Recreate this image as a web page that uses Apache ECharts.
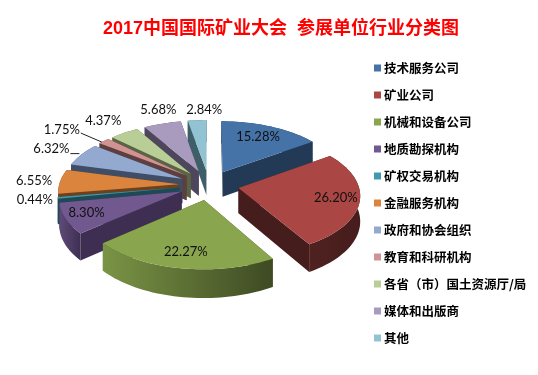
<!DOCTYPE html>
<html><head><meta charset="utf-8">
<style>html,body{margin:0;padding:0;background:#fff}#c{width:538px;height:375px}</style>
<script src="https://cdn.jsdelivr.net/npm/echarts@6/dist/echarts.min.js"></script>
</head><body><div id="c"></div>
<script>
const titleText = '2017中国国际矿业大会  参展单位行业分类图';
const categories = ['技术服务公司','矿业公司','机械和设备公司','地质勘探机构','矿权交易机构','金融服务机构','政府和协会组织','教育和科研机构','各省（市）国土资源厅/局','媒体和出版商','其他'];
const shares = [15.28,26.20,22.27,8.30,0.44,6.55,6.32,1.75,4.37,5.68,2.84];
const topColors = ['#4572A7','#AA4643','#89A54E','#71588F','#4198AF','#DB843D','#93A9CF','#D19392','#B9CD96','#A99BBD','#92C3D3'];
const wallColors = ['#233A56','#451D1C','#3E4A23','#3E2F52','#1E4A56','#6E411D','#3F4D66','#5E3F3F','#596346','#4E465C','#3F5F68'];
const wallLight = ['#2B4768','#4F2220','#7A9445','#5E4A78','#24596A','#8A5326','#4A5A78','#704C4C','#6A7654','#5C5270','#4A6F7A'];
// label placement relative to each slice's outer mid point, in px
const labelNudge = [[-13,10],[-24,-3],[5,-16],[21,-6],[-23,2],[-26,-1],[-30,-6],[-42,-11],[-21,-12],[-4,-14],[7,-10]];
const leaderSlices = {6:[-2,-1],7:[-2,1]};

const view = {cx:209, cy:185, A:120, B:58.8, k:0.105, explode:0.25, depth:25};
const total = shares.reduce((a,b)=>a+b,0);
const rad = Math.PI/180;
let acc = 0;
const slices = shares.map((v,i)=>{
  const start = acc/total*360; acc += v; const end = acc/total*360;
  return {i, start, end, mid:(start+end)/2};
});
function project(sl, r, deg, drop){
  const m = sl.mid*rad, t = deg*rad;
  const u = view.explode*Math.sin(m) + r*Math.sin(t);
  const w = -(view.explode*Math.cos(m) + r*Math.cos(t));
  const s = 1/(1 - view.k*w);
  return [view.cx + view.A*u*s, view.cy + view.B*w*s + (drop ? view.depth*s : 0)];
}
function sliceShapes(sl){
  const i = sl.i, arcTop = [], arcBot = [];
  const n = Math.max(2, Math.ceil((sl.end-sl.start)/2));
  for(let j=0;j<=n;j++){
    const d = sl.start + (sl.end-sl.start)*j/n;
    arcTop.push(project(sl,1,d,false)); arcBot.push(project(sl,1,d,true));
  }
  const a0 = project(sl,0,0,false), a1 = project(sl,0,0,true);
  const poly = (pts,fill)=>({type:'polygon',shape:{points:pts},style:{fill}});
  const radial1 = poly([a0,arcTop[0],arcBot[0],a1],wallColors[i]);
  const radial2 = poly([a0,arcTop[n],arcBot[n],a1],wallColors[i]);
  const xs = arcTop.map(p=>p[0]);
  const grad = new echarts.graphic.LinearGradient(Math.min(...xs),0,Math.max(...xs)+0.01,0,
    [{offset:0,color:wallLight[i]},{offset:1,color:wallColors[i]}],true);
  const arcWall = poly(arcTop.concat(arcBot.slice().reverse()),grad);
  const top = poly([a0].concat(arcTop),topColors[i]);
  const back = Math.cos(sl.mid*rad) > 0;
  const kids = back ? [arcWall,radial1,radial2,top] : [radial1,radial2,arcWall,top];
  const p = project(sl,1,sl.mid,false);
  const nudge = labelNudge[i];
  const lx = p[0]+nudge[0], ly = p[1]+nudge[1];
  if(leaderSlices[i]){
    const lift = i===6 ? 5 : 3;
    kids.push({type:'line',shape:{x1:lx+19,y1:ly+lift,x2:p[0]+leaderSlices[i][0],y2:p[1]+leaderSlices[i][1]},style:{stroke:'#222',lineWidth:1}});
  }
  kids.push({type:'text',style:{text:shares[i].toFixed(2)+'%',x:lx,y:ly,align:'center',verticalAlign:'middle',fill:'#111',font:'13px Lato, "Liberation Sans", sans-serif'}});
  return kids;
}
const order = slices.slice().sort((a,b)=>Math.cos(b.mid*rad)-Math.cos(a.mid*rad));
const chart = echarts.init(document.getElementById('c'),null,{renderer:'canvas'});
chart.setOption({
  animation:false,
  backgroundColor:'#fff',
  title:{text:titleText,left:98,top:15,textStyle:{color:'#FF0000',fontSize:18,fontWeight:'bold',fontFamily:'"Liberation Sans","Noto Sans CJK SC",sans-serif'}},
  legend:{orient:'vertical',left:369,top:56,itemWidth:7,itemHeight:7,itemGap:13,icon:'rect',data:categories,selectedMode:false,
    textStyle:{color:'#000',fontSize:12.5,fontWeight:'bold',lineHeight:14,fontFamily:'"Noto Sans CJK SC",sans-serif',padding:[0,0,0,-2]}},
  series:order.map(sl=>({
    type:'custom',name:categories[sl.i],coordinateSystem:'none',silent:true,
    itemStyle:{color:topColors[sl.i]},
    data:[shares[sl.i]],
    renderItem:()=>({type:'group',children:sliceShapes(sl)})
  }))
});
</script></body></html>
